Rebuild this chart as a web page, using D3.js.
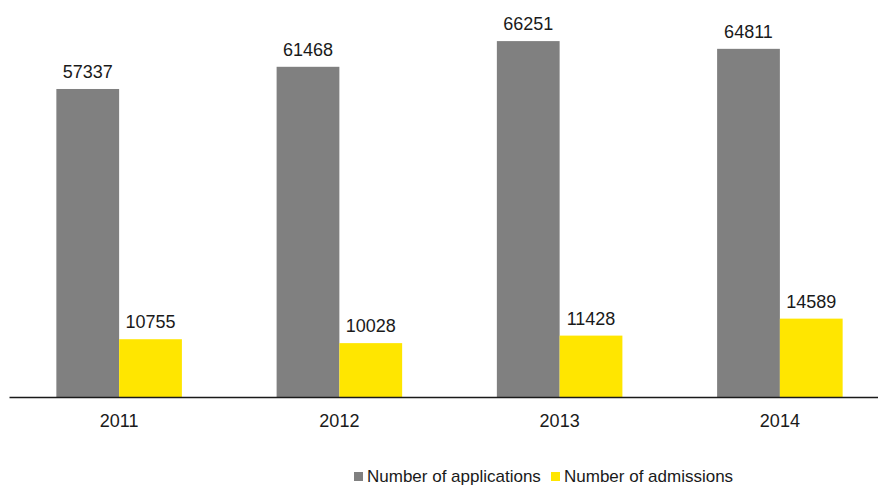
<!DOCTYPE html>
<html>
<head>
<meta charset="utf-8">
<script src="https://cdn.jsdelivr.net/npm/d3@7"></script>
<style>
  body { margin: 0; background: #fff; }
</style>
</head>
<body>
<div id="chart"></div>
<script>
// Data
const years = ["2011", "2012", "2013", "2014"];
const applications = [57337, 61468, 66251, 64811];
const admissions = [10755, 10028, 11428, 14589];
const seriesNames = ["Number of applications", "Number of admissions"];
const seriesColors = ["#808080", "#FFE600"];

const width = 878, height = 486;
const baseY = 397;

const svg = d3.select("#chart")
  .append("svg")
  .attr("width", width)
  .attr("height", height)
  .style("font-family", "'Liberation Sans', Arial, sans-serif");

// X scale for year groups
const x = d3.scaleBand()
  .domain(years)
  .range([9, 890])
  .paddingInner(0.43)
  .paddingOuter(0.215);

// inner scale for the two series
const xInner = d3.scaleBand()
  .domain(seriesNames)
  .range([0, x.bandwidth()]);

// Y scale
const y = d3.scaleLinear()
  .domain([0, 70000])
  .range([baseY, baseY - 70000 * 0.005372]);

const rows = years.map((yr, i) => ({
  year: yr,
  values: [applications[i], admissions[i]]
}));

const groups = svg.selectAll(".group")
  .data(rows)
  .enter()
  .append("g")
  .attr("class", "group")
  .attr("transform", d => `translate(${x(d.year)},0)`);

groups.selectAll("rect")
  .data(d => d.values.map((v, j) => ({ name: seriesNames[j], value: v, color: seriesColors[j] })))
  .enter()
  .append("rect")
  .attr("x", d => xInner(d.name))
  .attr("y", d => y(d.value))
  .attr("width", xInner.bandwidth())
  .attr("height", d => baseY - y(d.value))
  .attr("fill", d => d.color);

// value labels
groups.selectAll("text")
  .data(d => d.values.map((v, j) => ({ name: seriesNames[j], value: v })))
  .enter()
  .append("text")
  .attr("x", d => xInner(d.name) + xInner.bandwidth() / 2)
  .attr("y", d => y(d.value) - 11)
  .attr("text-anchor", "middle")
  .attr("fill", "#1a1a1a")
  .style("font-size", "18px")
  .text(d => d.value);

// X axis
const xAxis = svg.append("g")
  .attr("transform", `translate(0,${baseY})`)
  .call(d3.axisBottom(x).tickSize(0).tickPadding(17));

xAxis.select(".domain")
  .attr("stroke", "#1a1a1a")
  .attr("stroke-width", 1.3);

xAxis.selectAll("text")
  .style("font-size", "18px")
  .style("font-family", "'Liberation Sans', Arial, sans-serif")
  .attr("fill", "#1a1a1a");

// Legend
const legendX = [354, 551];
const legend = svg.append("g");
seriesNames.forEach((name, i) => {
  legend.append("rect")
    .attr("x", legendX[i])
    .attr("y", 472)
    .attr("width", 9)
    .attr("height", 9)
    .attr("fill", seriesColors[i]);
  legend.append("text")
    .attr("x", legendX[i] + 13)
    .attr("y", 482)
    .attr("fill", "#1a1a1a")
    .style("font-size", "17px")
    .text(name);
});
</script>
</body>
</html>
